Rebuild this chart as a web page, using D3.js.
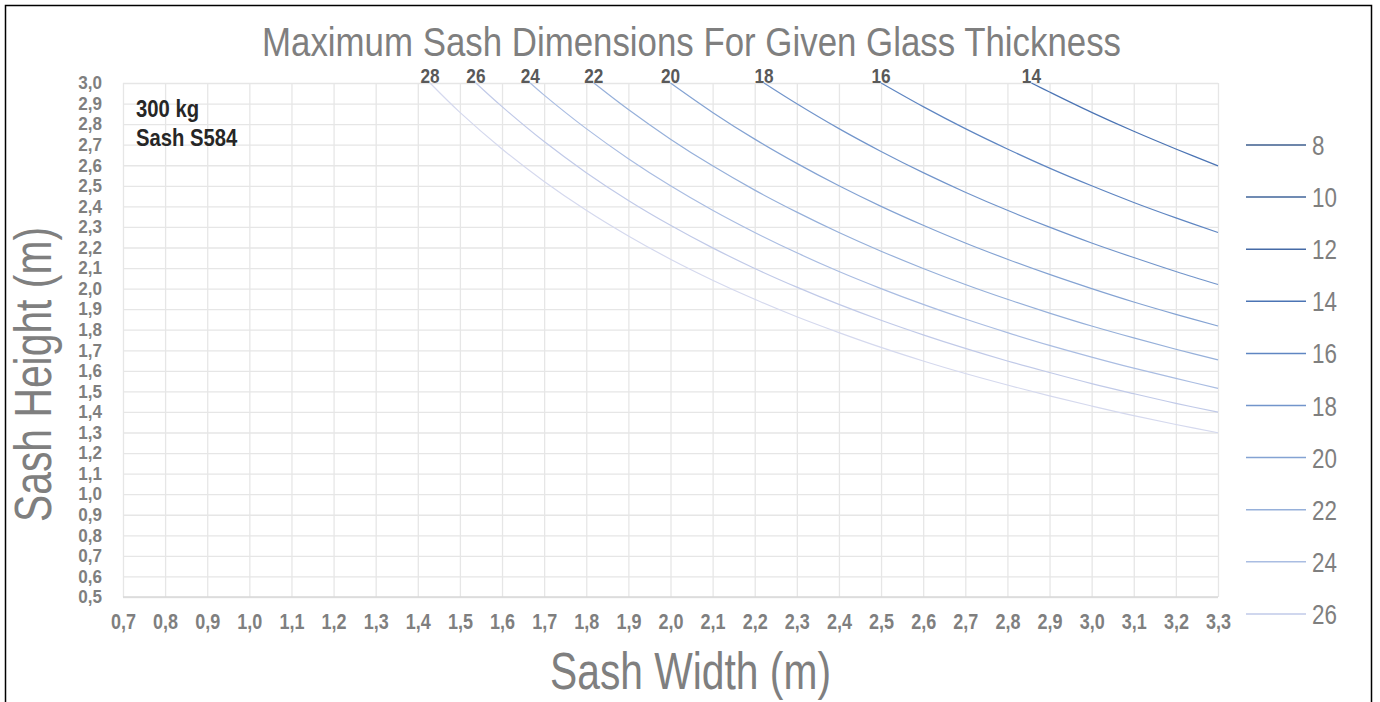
<!DOCTYPE html>
<html>
<head>
<meta charset="utf-8">
<script src="https://cdn.jsdelivr.net/npm/d3@7"></script>
<style>
  body { margin: 0; background: #fff; }
  svg text { font-family: "Liberation Sans", Arial, sans-serif; }
</style>
</head>
<body>
<svg id="chart"></svg>
<script>
const width = 1380;
const height = 702;

// tick labels on both axes
const widthTicks = [0.7, 0.8, 0.9, 1.0, 1.1, 1.2, 1.3, 1.4, 1.5, 1.6, 1.7, 1.8, 1.9, 2.0,
                    2.1, 2.2, 2.3, 2.4, 2.5, 2.6, 2.7, 2.8, 2.9, 3.0, 3.1, 3.2, 3.3];
const heightTicks = [0.5, 0.6, 0.7, 0.8, 0.9, 1.0, 1.1, 1.2, 1.3, 1.4, 1.5, 1.6, 1.7,
                     1.8, 1.9, 2.0, 2.1, 2.2, 2.3, 2.4, 2.5, 2.6, 2.7, 2.8, 2.9, 3.0];

// glass thickness (mm) of the drawn curves, and where each one enters at height 3.0
const thickness = [14, 16, 18, 20, 22, 24, 26, 28];
const startWidth = [2.857, 2.50, 2.222, 2.00, 1.818, 1.667, 1.538, 1.429];

// heights: first value at startWidth, then one per 0.1 m up to 3.3
const h14 = [3.000, 2.956, 2.857, 2.765, 2.679, 2.597];
const h16 = [3.000, 2.885, 2.778, 2.679, 2.586, 2.500, 2.419, 2.344, 2.273];
const h18 = [3.000, 2.899, 2.778, 2.667, 2.564, 2.469, 2.381, 2.299, 2.222, 2.151, 2.083, 2.020];
const h20 = [3.000, 2.857, 2.727, 2.609, 2.500, 2.400, 2.308, 2.222, 2.143, 2.069, 2.000, 1.935, 1.875, 1.818];
const h22 = [3.000, 2.871, 2.727, 2.597, 2.479, 2.372, 2.273, 2.182, 2.098, 2.020, 1.948, 1.881, 1.818, 1.760, 1.705, 1.653];
const h24 = [3.000, 2.941, 2.778, 2.632, 2.500, 2.381, 2.273, 2.174, 2.083, 2.000, 1.923, 1.852, 1.786, 1.724, 1.667, 1.613, 1.563, 1.515];
const h26 = [3.000, 2.885, 2.715, 2.564, 2.429, 2.308, 2.198, 2.098, 2.007, 1.923, 1.846, 1.775, 1.709, 1.648, 1.592, 1.538, 1.489, 1.442, 1.399];
const h28 = [3.000, 2.857, 2.679, 2.521, 2.381, 2.256, 2.143, 2.041, 1.948, 1.863, 1.786, 1.714, 1.648, 1.587, 1.531, 1.478, 1.429, 1.382, 1.339, 1.299];
const heights = [h14, h16, h18, h20, h22, h24, h26, h28];

// legend entries
const legendThickness = [8, 10, 12, 14, 16, 18, 20, 22, 24, 26];
const lineColors = {
  8: "#3d5e8e", 10: "#41649a", 12: "#456aa6", 14: "#4b74b4", 16: "#5f86c2",
  18: "#7295cb", 20: "#84a3d3", 22: "#96b0da", 24: "#aabde2", 26: "#c1cae8", 28: "#d5d9ee"
};

const margin = {top: 83, right: 162, bottom: 105, left: 123};
const innerW = width - margin.left - margin.right;
const innerH = height - margin.top - margin.bottom;

let svg = d3.select("#chart")
            .attr("width", width)
            .attr("height", height);

// text squeezed sideways, the original uses a condensed face
function label(parent, x, y, sx) {
  return parent.append("text")
               .attr("transform", "translate(" + x + "," + y + ") scale(" + sx + ",1)");
}

// outer frame
svg.append("path")
   .attr("d", "M5.5,702 V5.5 H1371.5 V702")
   .attr("fill", "none")
   .attr("stroke", "#000")
   .attr("stroke-width", 1.5);

let x = d3.scaleLinear().domain([0.7, 3.3]).range([0, innerW]);
let y = d3.scaleLinear().domain([0.5, 3.0]).range([innerH, 0]);

let g = svg.append("g")
           .attr("transform", "translate(" + margin.left + "," + margin.top + ")");

let fmt = d => d.toFixed(1).replace(".", ",");

// vertical grid
g.append("g")
 .call(d3.axisBottom(x).tickValues(widthTicks).tickSize(innerH).tickFormat(""))
 .call(a => a.select(".domain").remove())
 .call(a => a.selectAll("line").attr("stroke", "#e6e6e6").attr("stroke-width", 1.3));

// horizontal grid
g.append("g")
 .call(d3.axisLeft(y).tickValues(heightTicks).tickSize(-innerW).tickFormat(""))
 .call(a => a.select(".domain").remove())
 .call(a => a.selectAll("line").attr("stroke", "#e6e6e6").attr("stroke-width", 1.3));

// bottom axis line
g.append("line")
 .attr("x1", 0).attr("x2", innerW)
 .attr("y1", innerH).attr("y2", innerH)
 .attr("stroke", "#d9d9d9").attr("stroke-width", 1.5);

// x tick labels
g.append("g")
 .attr("transform", "translate(0," + innerH + ")")
 .call(d3.axisBottom(x).tickValues(widthTicks).tickSize(0).tickPadding(16).tickFormat(fmt))
 .call(a => a.select(".domain").remove())
 .call(a => a.selectAll("text")
             .attr("transform", "scale(0.8,1)")
             .attr("fill", "#7f7f7f")
             .style("font-size", "22.5px")
             .style("font-weight", "bold"));

// y tick labels
g.append("g")
 .call(d3.axisLeft(y).tickValues(heightTicks).tickSize(0).tickFormat(fmt))
 .call(a => a.select(".domain").remove())
 .call(a => a.selectAll("text")
             .attr("x", -21 / 0.95)
             .attr("transform", "scale(0.95,1)")
             .attr("fill", "#7f7f7f")
             .style("font-size", "18px")
             .style("font-weight", "bold"));

// curves
let line = d3.line()
             .x(d => x(d[0]))
             .y(d => y(d[1]))
             .curve(d3.curveCatmullRom.alpha(0.5));

thickness.forEach((t, i) => {
  let hs = heights[i];
  let rest = widthTicks.slice(widthTicks.length - (hs.length - 1));
  let pts = [[startWidth[i], hs[0]]].concat(rest.map((w, j) => [w, hs[j + 1]]));

  g.append("path")
   .datum(pts)
   .attr("fill", "none")
   .attr("stroke", lineColors[t])
   .attr("stroke-width", 1.2)
   .attr("d", line);

  // label above curve start
  label(g, x(startWidth[i]), 0, 0.82)
   .attr("text-anchor", "middle")
   .attr("fill", "#595959")
   .style("font-size", "21px")
   .style("font-weight", "bold")
   .text(t);
});

// annotation
label(g, 13, 34, 0.88)
 .attr("fill", "#262626")
 .style("font-size", "23px")
 .style("font-weight", "bold")
 .text("300 kg");
label(g, 13, 63, 0.88)
 .attr("fill", "#262626")
 .style("font-size", "23px")
 .style("font-weight", "bold")
 .text("Sash S584");

// legend
let legend = svg.append("g")
                .attr("transform", "translate(1246,145)");

legendThickness.forEach((t, i) => {
  let row = legend.append("g").attr("transform", "translate(0," + (i * 52.1) + ")");
  row.append("line")
     .attr("x1", 0).attr("x2", 60)
     .attr("stroke", lineColors[t])
     .attr("stroke-width", 1.5);
  label(row, 66, 10, 0.8)
     .attr("fill", "#7f7f7f")
     .style("font-size", "28px")
     .text(t);
});

// title
svg.append("text")
   .attr("x", 262).attr("y", 56)
   .attr("textLength", 859)
   .attr("lengthAdjust", "spacingAndGlyphs")
   .attr("fill", "#7f7f7f")
   .style("font-size", "41px")
   .text("Maximum Sash Dimensions For Given Glass Thickness");

// axis titles
svg.append("text")
   .attr("x", 550).attr("y", 689)
   .attr("textLength", 281)
   .attr("lengthAdjust", "spacingAndGlyphs")
   .attr("fill", "#7f7f7f")
   .style("font-size", "52px")
   .text("Sash Width (m)");

svg.append("text")
   .attr("transform", "translate(51,522) rotate(-90)")
   .attr("textLength", 295)
   .attr("lengthAdjust", "spacingAndGlyphs")
   .attr("fill", "#7f7f7f")
   .style("font-size", "51px")
   .text("Sash Height (m)");
</script>
</body>
</html>
